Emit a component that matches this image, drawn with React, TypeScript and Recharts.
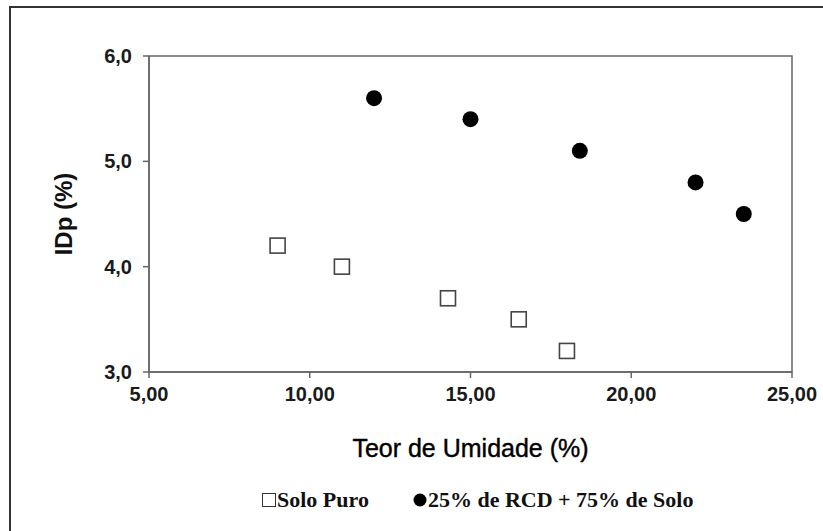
import { ScatterChart, Scatter, XAxis, YAxis, ReferenceArea, Legend } from 'recharts';

// Teor de umidade (%) x IDp (%)
const soloPuroX = [9.0, 11.0, 14.3, 16.5, 18.0];
const soloPuroY = [4.2, 4.0, 3.7, 3.5, 3.2];
const rcdX = [12.0, 15.0, 18.4, 22.0, 23.5];
const rcdY = [5.6, 5.4, 5.1, 4.8, 4.5];

const xTicks = [5, 10, 15, 20, 25];
const yTicks = [3, 4, 5, 6];
const seriesNames = ['Solo Puro', '25% de RCD + 75% de Solo'];

const soloPuro = soloPuroX.map((x, i) => ({ x, y: soloPuroY[i] }));
const rcd = rcdX.map((x, i) => ({ x, y: rcdY[i] }));

const fmtX = (v: number) => v.toFixed(2).replace('.', ',');
const fmtY = (v: number) => v.toFixed(1).replace('.', ',');

const axisColor = '#666';
const tickStyle = { fontFamily: "'Liberation Sans', Arial, sans-serif", fontWeight: 700, fontSize: 20, fill: '#1a1a1a' };

const SquareDot = (p: any) => (
  <rect x={p.cx - 7.5} y={p.cy - 7.5} width={15} height={15} fill="#fff" stroke="#444" strokeWidth={1.6} />
);
const CircleDot = (p: any) => <circle cx={p.cx} cy={p.cy} r={8} fill="#000" />;

const renderLegend = () => (
  <div style={{ fontFamily: "'Liberation Serif', 'Times New Roman', serif", fontWeight: 700, fontSize: 22, color: '#111', whiteSpace: 'nowrap', display: 'flex', alignItems: 'center' }}>
    <svg width={14} height={14} style={{ marginRight: 1 }}>
      <rect x={0.5} y={0.5} width={13} height={13} fill="#fff" stroke="#333" strokeWidth={1} />
    </svg>
    <span style={{ marginRight: 44 }}>{seriesNames[0]}</span>
    <svg width={14} height={14} style={{ marginRight: 1 }}>
      <circle cx={7} cy={7} r={6.5} fill="#000" />
    </svg>
    <span>{seriesNames[1]}</span>
  </div>
);

export default function App() {
  return (
    <div style={{ position: 'absolute', left: 0, top: 0, width: 823, height: 531, overflow: 'hidden', background: '#fff' }}>
      <div style={{ position: 'absolute', left: 9, top: 6, width: 900, height: 600, borderLeft: '2px solid #333', borderTop: '2px solid #333' }} />
      <div style={{ position: 'absolute', left: 0, top: 0 }}>
        <ScatterChart width={823} height={531} margin={{ top: 56, right: 31, bottom: 74, left: 49 }}>
          <XAxis
            dataKey="x"
            type="number"
            domain={[5, 25]}
            ticks={xTicks}
            tickFormatter={fmtX}
            height={85}
            stroke={axisColor}
            strokeWidth={1.5}
            tickSize={6}
            tickMargin={9}
            tick={tickStyle}
            label={{ value: 'Teor de Umidade (%)', position: 'insideBottom', offset: 0, style: { fontFamily: "'Liberation Sans', Arial, sans-serif", fontSize: 25, fill: '#000', stroke: '#000', strokeWidth: 0.4, textAnchor: 'middle' } }}
          />
          <YAxis
            dataKey="y"
            type="number"
            domain={[3, 6]}
            ticks={yTicks}
            tickFormatter={fmtY}
            width={100}
            stroke={axisColor}
            strokeWidth={1.5}
            tickSize={6}
            tickMargin={11}
            tick={tickStyle}
            label={{ value: 'IDp (%)', angle: -90, position: 'insideLeft', offset: 14, style: { fontFamily: "'Liberation Sans', Arial, sans-serif", fontWeight: 700, fontSize: 24, fill: '#111', textAnchor: 'middle' } }}
          />
          <ReferenceArea x1={5} x2={25} y1={3} y2={6} fill="none" stroke={axisColor} strokeWidth={1.5} />
          <Scatter name={seriesNames[0]} data={soloPuro} shape={SquareDot} isAnimationActive={false} />
          <Scatter name={seriesNames[1]} data={rcd} shape={CircleDot} isAnimationActive={false} />
          <Legend
            layout="horizontal"
            verticalAlign="middle"
            align="center"
            content={renderLegend}
            wrapperStyle={{ left: 262, top: 487, width: 480 }}
          />
        </ScatterChart>
      </div>
    </div>
  );
}
